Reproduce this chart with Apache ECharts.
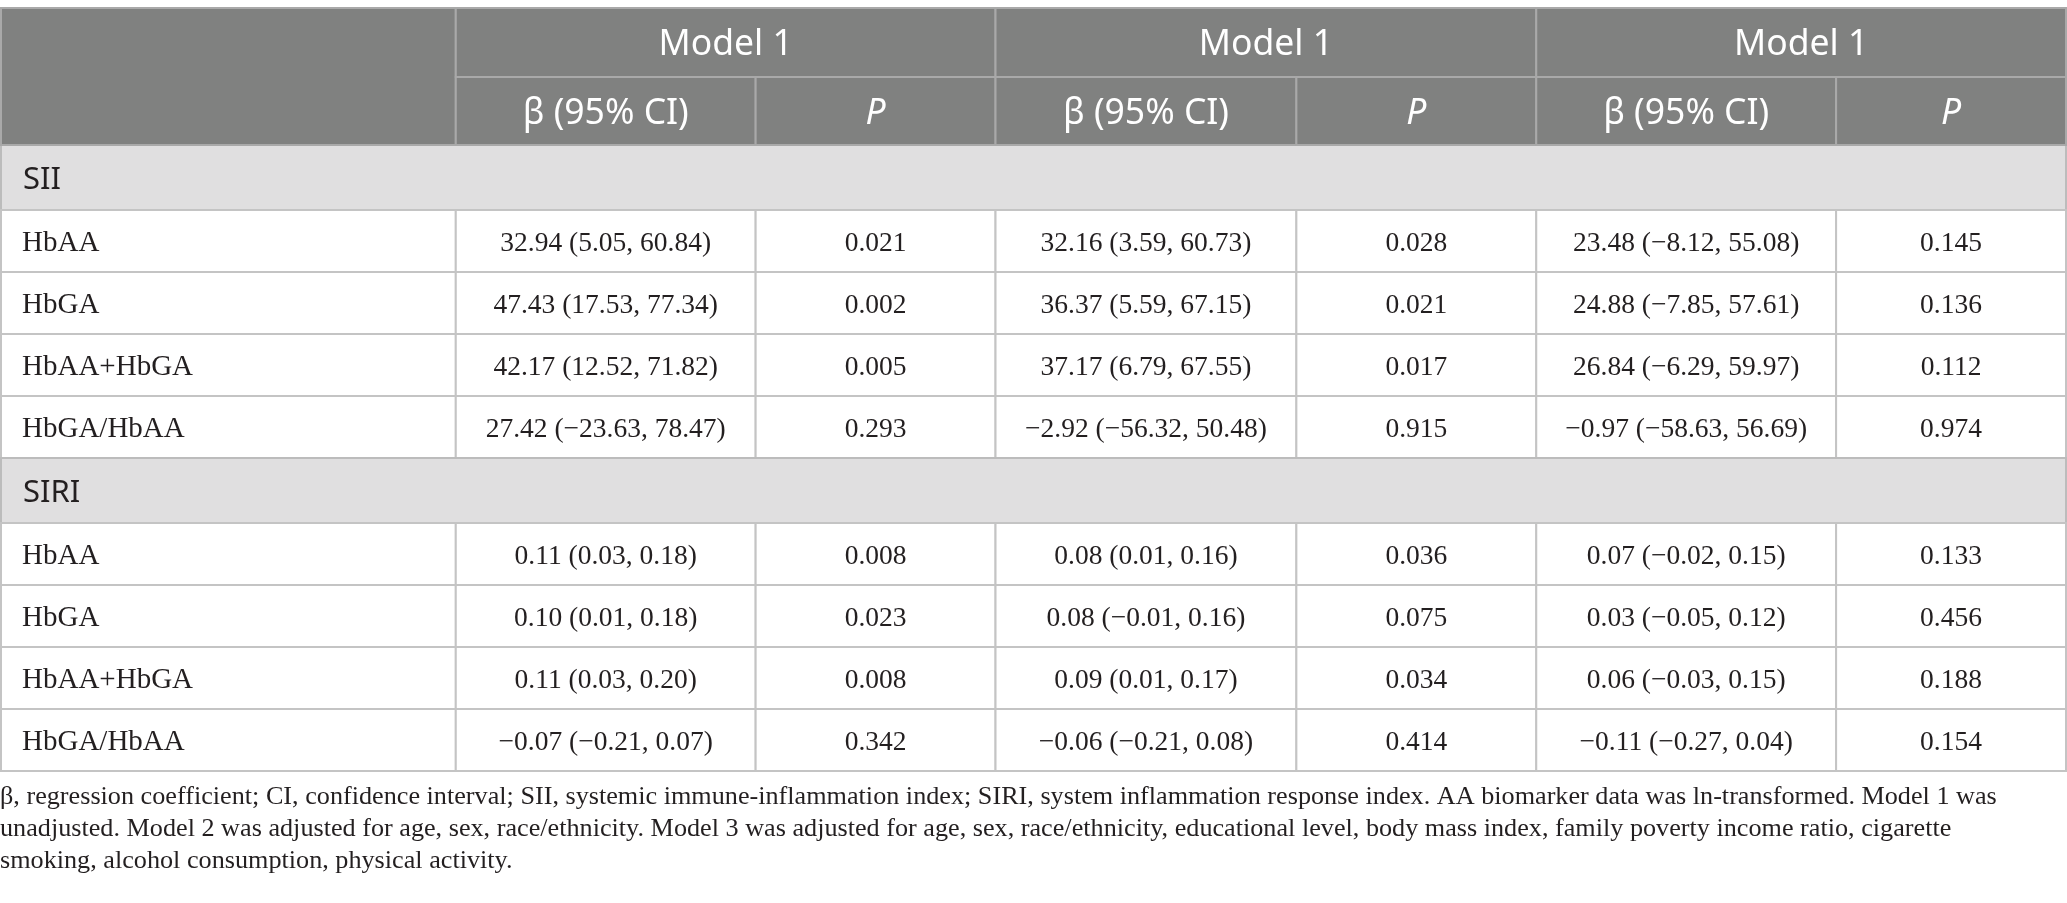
<!DOCTYPE html>
<html>
<head>
<meta charset="utf-8">
<script src="https://cdn.jsdelivr.net/npm/echarts@6/dist/echarts.min.js"></script>
<style>
html,body{margin:0;padding:0;background:#fff;}
#chart{width:2067px;height:903px;}
</style>
</head>
<body>
<div id="chart"></div>
<script>
// ---------- data ----------
const modelNames = ['Model 1', 'Model 1', 'Model 1'];
const subHeaders = ['β (95% CI)', 'P'];
const sections = ['SII', 'SIRI'];
const rowLabels = ['HbAA', 'HbGA', 'HbAA+HbGA', 'HbGA/HbAA'];
// [beta, lower, upper, P] per row label
const siiModel1 = [[32.94, 5.05, 60.84, 0.021], [47.43, 17.53, 77.34, 0.002], [42.17, 12.52, 71.82, 0.005], [27.42, -23.63, 78.47, 0.293]];
const siiModel2 = [[32.16, 3.59, 60.73, 0.028], [36.37, 5.59, 67.15, 0.021], [37.17, 6.79, 67.55, 0.017], [-2.92, -56.32, 50.48, 0.915]];
const siiModel3 = [[23.48, -8.12, 55.08, 0.145], [24.88, -7.85, 57.61, 0.136], [26.84, -6.29, 59.97, 0.112], [-0.97, -58.63, 56.69, 0.974]];
const siriModel1 = [[0.11, 0.03, 0.18, 0.008], [0.10, 0.01, 0.18, 0.023], [0.11, 0.03, 0.20, 0.008], [-0.07, -0.21, 0.07, 0.342]];
const siriModel2 = [[0.08, 0.01, 0.16, 0.036], [0.08, -0.01, 0.16, 0.075], [0.09, 0.01, 0.17, 0.034], [-0.06, -0.21, 0.08, 0.414]];
const siriModel3 = [[0.07, -0.02, 0.15, 0.133], [0.03, -0.05, 0.12, 0.456], [0.06, -0.03, 0.15, 0.188], [-0.11, -0.27, 0.04, 0.154]];
const footnoteLines = [
  'β, regression coefficient; CI, confidence interval; SII, systemic immune-inflammation index; SIRI, system inflammation response index. AA biomarker data was ln-transformed. Model 1 was',
  'unadjusted. Model 2 was adjusted for age, sex, race/ethnicity. Model 3 was adjusted for age, sex, race/ethnicity, educational level, body mass index, family poverty income ratio, cigarette',
  'smoking, alcohol consumption, physical activity.'
];

// ---------- layout (relative units) ----------
const colWidths = [455, 300, 240, 301, 240, 300, 230];
const headRowHeights = [69, 68];
const sectionRowHeight = 65;
const dataRowHeight = 62;

const colEdges = [0];
colWidths.forEach(w => colEdges.push(colEdges[colEdges.length - 1] + w));
const rowHeights = headRowHeights.slice();
sections.forEach(() => { rowHeights.push(sectionRowHeight); rowLabels.forEach(() => rowHeights.push(dataRowHeight)); });
const rowEdges = [0];
rowHeights.forEach(h => rowEdges.push(rowEdges[rowEdges.length - 1] + h));

const fmt = (v, d) => v.toFixed(d).replace('-', '−');
const cells = [];
function addCell(c0, c1, r0, r1, text, kind) { cells.push({ c0, c1, r0, r1, text, kind }); }

const sectionData = [[siiModel1, siiModel2, siiModel3], [siriModel1, siriModel2, siriModel3]];
const betaDigits = [2, 2];
let r = 2;
sections.forEach((s, si) => {
  addCell(0, 7, r, r + 1, s, 'section');
  r++;
  rowLabels.forEach((lab, li) => {
    addCell(0, 1, r, r + 1, lab, 'label');
    sectionData[si].forEach((model, mi) => {
      const v = model[li];
      const d = betaDigits[si];
      addCell(1 + 2 * mi, 2 + 2 * mi, r, r + 1, fmt(v[0], d) + ' (' + fmt(v[1], d) + ', ' + fmt(v[2], d) + ')', 'num');
      addCell(2 + 2 * mi, 3 + 2 * mi, r, r + 1, v[3].toFixed(3), 'num');
    });
    r++;
  });
});
addCell(0, 1, 0, 2, '', 'head');
modelNames.forEach((m, mi) => {
  addCell(1 + 2 * mi, 3 + 2 * mi, 0, 1, m, 'head');
  addCell(1 + 2 * mi, 2 + 2 * mi, 1, 2, subHeaders[0], 'head');
  addCell(2 + 2 * mi, 3 + 2 * mi, 1, 2, subHeaders[1], 'headItalic');
});

const seriesData = cells.map((c, i) => ({
  value: [colEdges[c.c0], colEdges[c.c1], rowEdges[c.r0], rowEdges[c.r1]],
  name: String(i)
}));

const styles = {
  head: { fill: '#808180', stroke: '#a9a9a9', color: '#ffffff', font: 'normal 400 35.5px "Noto Sans"', align: 'center', pad: 0 },
  headItalic: { fill: '#808180', stroke: '#a9a9a9', color: '#ffffff', font: 'italic 400 35.5px "Noto Sans"', align: 'center', pad: 0 },
  section: { fill: '#e0dfe0', stroke: '#bcbcbc', color: '#231f20', font: 'normal 400 31px "Noto Sans"', align: 'left', pad: 22 },
  label: { fill: '#ffffff', stroke: '#c4c4c4', color: '#231f20', font: 'normal 400 29px "Liberation Serif"', align: 'left', pad: 21 },
  num: { fill: '#ffffff', stroke: '#c4c4c4', color: '#231f20', font: 'normal 400 27.5px "Liberation Serif"', align: 'center', pad: 0 }
};
const textShift = 2.5;

const chart = echarts.init(document.getElementById('chart'), null, { renderer: 'canvas' });
chart.setOption({
  animation: false,
  backgroundColor: '#ffffff',
  title: {
    text: footnoteLines.join('\n'),
    left: 0,
    top: 781,
    padding: 0,
    textStyle: { fontFamily: 'Liberation Serif', fontSize: 26.2, fontWeight: 'normal', color: '#231f20', lineHeight: 32 }
  },
  grid: { left: 1, right: 1, top: 8, height: rowEdges[rowEdges.length - 1] },
  xAxis: { type: 'value', min: 0, max: colEdges[colEdges.length - 1], show: false },
  yAxis: { type: 'value', min: 0, max: rowEdges[rowEdges.length - 1], inverse: true, show: false },
  series: [{
    type: 'custom',
    silent: true,
    clip: false,
    data: seriesData,
    encode: { x: [0, 1], y: [2, 3] },
    renderItem: function (params, api) {
      const c = cells[params.dataIndex];
      const st = styles[c.kind];
      const p0 = api.coord([api.value(0), api.value(2)]);
      const p1 = api.coord([api.value(1), api.value(3)]);
      const w = p1[0] - p0[0], h = p1[1] - p0[1];
      const tx = st.align === 'center' ? p0[0] + w / 2 : p0[0] + st.pad;
      return {
        type: 'group',
        children: [
          { type: 'rect', shape: { x: p0[0], y: p0[1], width: w, height: h },
            style: { fill: st.fill, stroke: st.stroke, lineWidth: 2 } },
          { type: 'text', style: { x: tx, y: p0[1] + h / 2 + textShift, text: c.text, fill: st.color,
            font: st.font, align: st.align, verticalAlign: 'middle' } }
        ]
      };
    }
  }]
});
</script>
</body>
</html>
